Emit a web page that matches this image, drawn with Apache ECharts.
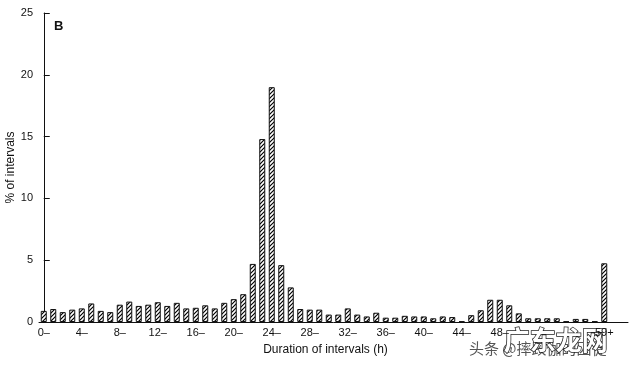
<!DOCTYPE html>
<html>
<head>
<meta charset="utf-8">
<script src="https://cdn.jsdelivr.net/npm/echarts@6/dist/echarts.min.js"></script>
<style>html,body{margin:0;padding:0;background:#fff;}#c{width:640px;height:367px;}</style>
</head>
<body>
<div id="c"></div>
<script>
// Duration bins (h), one bar each; the last bin is "59+"
const durationBins = [0,1,2,3,4,5,6,7,8,9,10,11,12,13,14,15,16,17,18,19,20,21,22,23,24,25,26,27,28,29,
  30,31,32,33,34,35,36,37,38,39,40,41,42,43,44,45,46,47,48,49,50,51,52,53,54,55,56,57,58,59];
// % of intervals
const percentIntervals = [0.9,1.05,0.8,1.0,1.1,1.5,0.9,0.8,1.4,1.65,1.3,1.4,1.6,1.3,1.55,1.1,1.15,1.35,1.1,1.55,
  1.85,2.25,4.7,14.8,19.0,4.6,2.8,1.05,1.0,1.0,0.6,0.6,1.1,0.6,0.45,0.75,0.35,0.35,0.5,0.45,
  0.45,0.3,0.45,0.4,0.05,0.55,0.95,1.8,1.8,1.35,0.7,0.3,0.3,0.3,0.3,0.05,0.25,0.25,0.05,4.75];
const xTickValues = [0,4,8,12,16,20,24,28,32,36,40,44,48,59];
const xTickLabels = ['0–','4–','8–','12–','16–','20–','24–','28–','32–','36–','40–','44–','48–','59+'];
const yTicks = [0,5,10,15,20,25];

const pc = document.createElement('canvas');
pc.width = 4; pc.height = 4;
const g = pc.getContext('2d');
g.fillStyle = '#fff'; g.fillRect(0,0,4,4);
g.strokeStyle = '#000'; g.lineWidth = 1.2;
g.beginPath();
g.moveTo(0,4); g.lineTo(4,0);
g.moveTo(-1,1); g.lineTo(1,-1);
g.moveTo(3,5); g.lineTo(5,3);
g.stroke();

const chart = echarts.init(document.getElementById('c'), null, {renderer:'canvas'});
const font = 'Liberation Sans, Arial, sans-serif';
chart.setOption({
  animation: false,
  backgroundColor: '#fff',
  title: { text: 'B', left: 49, top: 15, textStyle: { fontSize: 13, fontWeight: 'bold', color: '#111', fontFamily: font } },
  grid: { left: 39, right: 12, top: 13, bottom: 45, containLabel: false, outerBoundsMode: 'none' },
  xAxis: {
    type: 'value', min: -0.5, max: 61.5,
    name: 'Duration of intervals (h)', nameLocation: 'middle', nameGap: 22, nameMoveOverlap: false,
    nameTextStyle: { fontSize: 12, color: '#111', fontFamily: font, padding: [0, 16, 0, 0] },
    axisLine: { show: true, onZero: false, lineStyle: { color: '#111', width: 1 } },
    axisTick: { show: false },
    splitLine: { show: false },
    axisLabel: {
      customValues: xTickValues,
      formatter: function (v) { const i = xTickValues.indexOf(v); return i >= 0 ? xTickLabels[i] : ''; },
      fontSize: 11, color: '#111', fontFamily: font, margin: 5
    }
  },
  yAxis: {
    type: 'value', min: 0, max: 25, interval: 5,
    name: '% of intervals', nameLocation: 'middle', nameGap: 22, nameMoveOverlap: false,
    nameTextStyle: { fontSize: 12, color: '#111', fontFamily: font },
    axisLine: { show: true, lineStyle: { color: '#111', width: 1 } },
    axisTick: { show: true, inside: true, length: 6, lineStyle: { color: '#111' } },
    splitLine: { show: false },
    axisLabel: { fontSize: 11, color: '#111', fontFamily: font, margin: 6,
      formatter: function (v) { return yTicks.indexOf(v) >= 0 ? String(v) : ''; } }
  },
  series: [{
    type: 'bar',
    data: durationBins.map(function (h, i) { return [h, percentIntervals[i]]; }),
    barWidth: 6,
    itemStyle: { color: { image: pc, repeat: 'repeat' }, borderColor: '#111', borderWidth: 1 }
  }],
  graphic: [
    { type: 'text', left: 469, top: 341, style: { text: '头条 @摔跤伽的囚徒', fontSize: 15, fill: '#555', fontFamily: 'Noto Sans CJK SC' } },
    { type: 'text', left: 503, top: 326, style: { text: '广东龙网', fontSize: 26, fontWeight: 'bold', fill: '#fff', stroke: '#222', lineWidth: 1.5, fontFamily: 'Noto Sans CJK SC' } }
  ]
});
</script>
</body>
</html>
